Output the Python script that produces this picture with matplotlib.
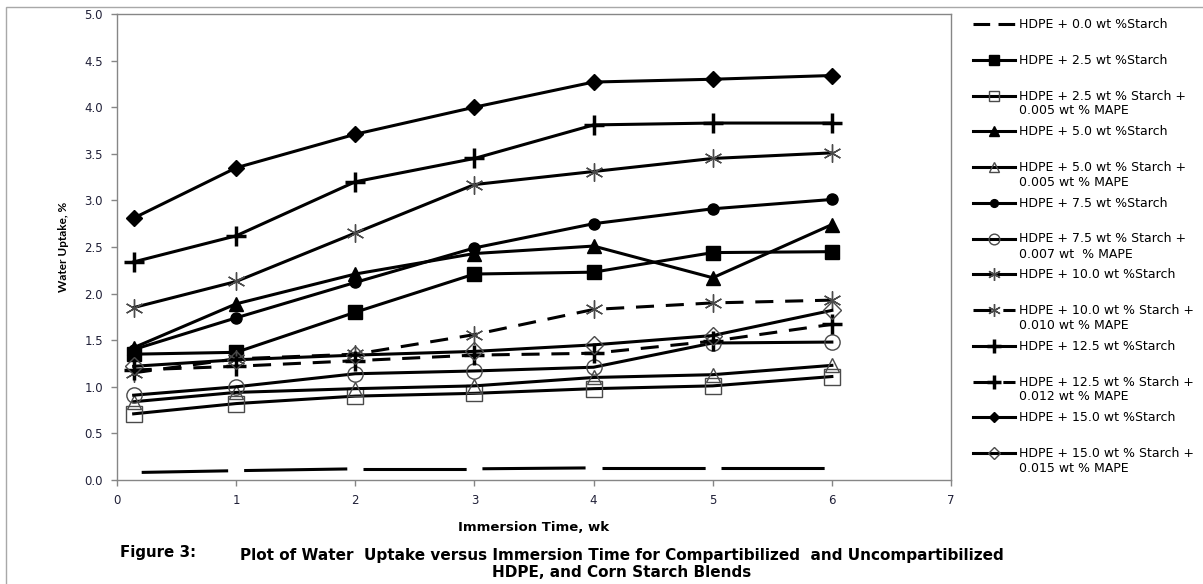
"""Water uptake vs immersion time for HDPE / corn starch blends (Figure 3)."""
import numpy as np
import matplotlib
matplotlib.use('Agg')
import matplotlib.pyplot as plt
from matplotlib.lines import Line2D
from matplotlib.legend_handler import HandlerLine2D
from matplotlib.patches import Rectangle

# immersion time, weeks (first reading after one day)
weeks = [0.14, 1, 2, 3, 4, 5, 6]

# water uptake, %
s00 = [0.08, 0.10, 0.12, 0.12, 0.13, 0.13, 0.13]
s25 = [1.35, 1.37, 1.80, 2.21, 2.23, 2.44, 2.45]
s25m = [0.71, 0.82, 0.90, 0.93, 0.98, 1.01, 1.11]
s50 = [1.42, 1.89, 2.21, 2.43, 2.51, 2.17, 2.74]
s50m = [0.84, 0.94, 0.98, 1.01, 1.10, 1.13, 1.23]
s75 = [1.40, 1.74, 2.12, 2.49, 2.75, 2.91, 3.01]
s75m = [0.91, 1.00, 1.14, 1.17, 1.21, 1.47, 1.48]
s100 = [1.85, 2.13, 2.65, 3.17, 3.31, 3.45, 3.51]
s100m = [1.15, 1.30, 1.35, 1.56, 1.83, 1.90, 1.93]
s125 = [2.34, 2.62, 3.20, 3.45, 3.81, 3.83, 3.83]
s125m = [1.18, 1.22, 1.28, 1.34, 1.36, 1.49, 1.67]
s150 = [2.81, 3.35, 3.71, 4.00, 4.27, 4.30, 4.34]
s150m = [1.22, 1.29, 1.34, 1.38, 1.45, 1.55, 1.82]

labels = [
	'HDPE + 0.0 wt %Starch',
	'HDPE + 2.5 wt %Starch',
	'HDPE + 2.5 wt % Starch +\n0.005 wt % MAPE',
	'HDPE + 5.0 wt %Starch',
	'HDPE + 5.0 wt % Starch +\n0.005 wt % MAPE',
	'HDPE + 7.5 wt %Starch',
	'HDPE + 7.5 wt % Starch +\n0.007 wt  % MAPE',
	'HDPE + 10.0 wt %Starch',
	'HDPE + 10.0 wt % Starch +\n0.010 wt % MAPE',
	'HDPE + 12.5 wt %Starch',
	'HDPE + 12.5 wt % Starch +\n0.012 wt % MAPE',
	'HDPE + 15.0 wt %Starch',
	'HDPE + 15.0 wt % Starch +\n0.015 wt % MAPE',
]

GRAY = '#868686'
MGRAY = '#4a4a4a'
LW = 2.2
DASH = (0, (13, 8.5))
ASTER = (6, 2, 0)
LEG_FS = 9

plt.rcParams['font.family'] = 'DejaVu Sans'
plt.rcParams['lines.scale_dashes'] = False

W, H = 1203, 584
fig = plt.figure(figsize=(W / 100, H / 100), dpi=100)
ax = fig.add_axes([117 / W, 104 / H, 834 / W, 466 / H])
ax.set_xlim(0, 7)
ax.set_ylim(0, 5)


class FirstLineHandler(HandlerLine2D):
	# put the legend key level with the first text line
	def create_artists(self, legend, orig_handle, xdescent, ydescent,
	                   width, height, fontsize, trans):
		return super().create_artists(legend, orig_handle, xdescent,
		                              ydescent - 1.35 * fontsize, width,
		                              height, fontsize, trans)


def seg_style(x0, y0, x1, y1, gap_px=16):
	p0, p1 = ax.transData.transform([(x0, y0), (x1, y1)])
	seg = np.hypot(*(p1 - p0)) * 72 / fig.dpi
	gap = gap_px * 72 / fig.dpi
	on = seg - gap
	return (on + gap / 2, (on, gap))


# 0 wt% starch: long dashes that break at every reading
for i in range(len(weeks) - 1):
	ax.plot(weeks[i:i + 2], s00[i:i + 2], color='black', lw=LW,
	        linestyle=seg_style(weeks[i], s00[i], weeks[i + 1], s00[i + 1]))
h00 = Line2D([], [], color='black', lw=LW, linestyle=(0, (12, 6)))

series = [
	(s25, dict(marker='s', ms=10, mfc='black', mec='black')),
	(s25m, dict(marker='s', ms=11, mfc='none', mec=MGRAY, mew=1)),
	(s50, dict(marker='^', ms=10, mfc='black', mec='black')),
	(s50m, dict(marker='^', ms=10, mfc='none', mec=MGRAY, mew=1)),
	(s75, dict(marker='o', ms=8, mfc='black', mec='black')),
	(s75m, dict(marker='o', ms=11, mfc='none', mec=MGRAY, mew=1)),
	(s100, dict(marker=ASTER, ms=13, mec=MGRAY, mew=1)),
	(s100m, dict(marker=ASTER, ms=13, mec=MGRAY, mew=1, linestyle=DASH)),
	(s125, dict(marker='+', ms=15, mec='black', mew=2.5)),
	(s125m, dict(marker='+', ms=15, mec='black', mew=2.5, linestyle=DASH)),
	(s150, dict(marker='D', ms=8, mfc='black', mec='black')),
	(s150m, dict(marker='D', ms=9, mfc='none', mec=MGRAY, mew=1)),
]

handles = [h00]
for vals, kw in series:
	ln, = ax.plot(weeks, vals, color='black', lw=LW, **kw)
	handles.append(ln)

ax.set_xticks(range(0, 8))
yt = np.arange(0, 5.01, 0.5)
ax.set_yticks(yt)
ax.set_yticklabels([f'{v:.1f}' for v in yt])
ax.tick_params(direction='out', length=4, width=1, color=GRAY,
               labelsize=8.5, labelcolor='#202038', pad=6)
for sp in ax.spines.values():
	sp.set_color(GRAY)
	sp.set_linewidth(1)

ax.set_xlabel('Immersion Time, wk', fontsize=9.5, fontweight='bold',
              labelpad=10)
ax.set_ylabel('Water Uptake, %', fontsize=8.5, fontweight='bold',
              family='Lato', labelpad=11)

leg_labels = [l if '\n' in l else l + '\n ' for l in labels]
fig.legend(handles, leg_labels, loc='upper left',
           bbox_to_anchor=(973 / W, 1 - 18 / H), frameon=False,
           fontsize=LEG_FS, handlelength=3.35, handletextpad=0.33,
           labelspacing=0.62, borderpad=0, borderaxespad=0,
           markerscale=0.7, handler_map={Line2D: FirstLineHandler()})

# chart area border
fig.patches.append(Rectangle((6 / W, -0.1), 1.2, 1 - 7 / H + 0.1,
                             transform=fig.transFigure, fill=False,
                             edgecolor='#a8a8a8', lw=1))

fig.text(120 / W, 1 - 553 / H, 'Figure 3:', fontsize=10.8,
         fontweight='bold', va='center')
fig.text(622 / W, 1 - 564 / H,
         'Plot of Water  Uptake versus Immersion Time for Compartibilized  '
         'and Uncompartibilized\nHDPE, and Corn Starch Blends',
         fontsize=11, fontweight='bold', ha='center',
         va='center', multialignment='center', linespacing=1.15)

fig.savefig('out.png', dpi=100)
